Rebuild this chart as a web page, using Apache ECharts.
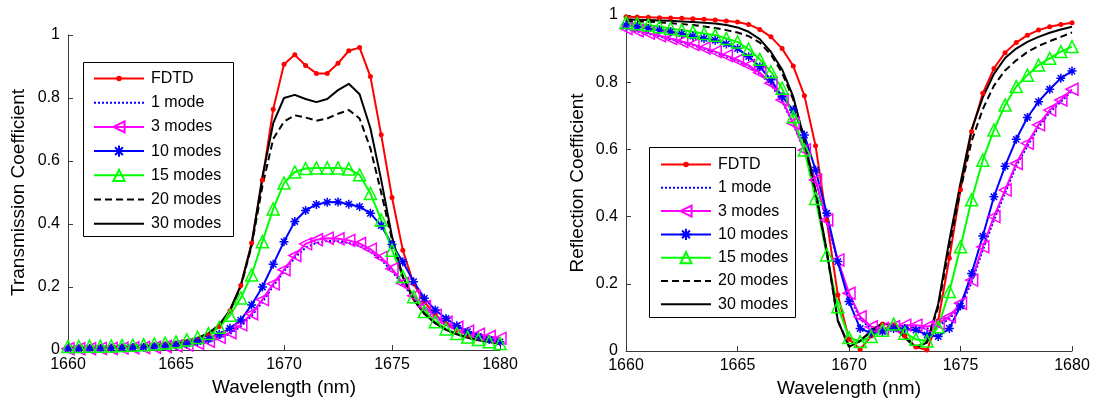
<!DOCTYPE html>
<html>
<head>
<meta charset="utf-8">
<script src="https://cdn.jsdelivr.net/npm/echarts@6/dist/echarts.min.js"></script>
<style>
  html, body { margin: 0; padding: 0; background: #ffffff; }
  #chart { width: 1093px; height: 406px; }
</style>
</head>
<body>
<div id="chart"></div>
<script>
// Wavelength samples (nm), 0.5 nm step
const wavelength = [
  1660, 1660.5, 1661, 1661.5, 1662, 1662.5, 1663, 1663.5, 1664, 1664.5,
  1665, 1665.5, 1666, 1666.5, 1667, 1667.5, 1668, 1668.5, 1669, 1669.5,
  1670, 1670.5, 1671, 1671.5, 1672, 1672.5, 1673, 1673.5, 1674, 1674.5,
  1675, 1675.5, 1676, 1676.5, 1677, 1677.5, 1678, 1678.5, 1679, 1679.5, 1680
];
const xTicks = [1660, 1665, 1670, 1675, 1680];
const yTicks = [0, 0.2, 0.4, 0.6, 0.8, 1];
const seriesNames = ['FDTD', '1 mode', '3 modes', '10 modes', '15 modes', '20 modes', '30 modes'];

// Transmission coefficient
const transFDTD = [
  0.008, 0.008, 0.009, 0.009, 0.010, 0.011, 0.012, 0.013, 0.015, 0.018,
  0.021, 0.026, 0.034, 0.048, 0.075, 0.125, 0.205, 0.340, 0.540, 0.764,
  0.907, 0.937, 0.903, 0.878, 0.878, 0.910, 0.950, 0.960, 0.868, 0.683,
  0.484, 0.317, 0.210, 0.152, 0.112, 0.083, 0.063, 0.048, 0.038, 0.031, 0.025
];
const trans1 = [
  0.003, 0.003, 0.004, 0.004, 0.005, 0.005, 0.006, 0.007, 0.008, 0.010,
  0.012, 0.015, 0.019, 0.026, 0.037, 0.051, 0.075, 0.108, 0.152, 0.203,
  0.250, 0.293, 0.325, 0.340, 0.346, 0.345, 0.340, 0.330, 0.312, 0.286,
  0.250, 0.207, 0.168, 0.135, 0.107, 0.086, 0.070, 0.058, 0.048, 0.041, 0.035
];
const trans3 = [
  0.004, 0.004, 0.004, 0.005, 0.005, 0.006, 0.007, 0.008, 0.009, 0.011,
  0.013, 0.016, 0.021, 0.028, 0.040, 0.055, 0.080, 0.115, 0.160, 0.210,
  0.255, 0.300, 0.337, 0.350, 0.355, 0.353, 0.348, 0.338, 0.320, 0.294,
  0.258, 0.212, 0.172, 0.138, 0.110, 0.088, 0.072, 0.060, 0.050, 0.043, 0.037
];
const trans10 = [
  0.004, 0.004, 0.005, 0.005, 0.006, 0.007, 0.008, 0.009, 0.011, 0.013,
  0.016, 0.020, 0.027, 0.035, 0.050, 0.069, 0.095, 0.143, 0.200, 0.272,
  0.344, 0.408, 0.443, 0.462, 0.469, 0.470, 0.463, 0.455, 0.434, 0.395,
  0.335, 0.280, 0.217, 0.164, 0.127, 0.100, 0.077, 0.058, 0.043, 0.033, 0.026
];
const trans15 = [
  0.011, 0.011, 0.012, 0.012, 0.013, 0.014, 0.015, 0.017, 0.019, 0.022,
  0.026, 0.032, 0.040, 0.052, 0.072, 0.110, 0.165, 0.238, 0.344, 0.448,
  0.530, 0.565, 0.576, 0.578, 0.578, 0.578, 0.575, 0.556, 0.497, 0.413,
  0.317, 0.233, 0.169, 0.122, 0.090, 0.067, 0.052, 0.041, 0.033, 0.026, 0.021
];
const trans20 = [
  0.005, 0.005, 0.006, 0.006, 0.007, 0.008, 0.009, 0.010, 0.012, 0.015,
  0.019, 0.026, 0.037, 0.053, 0.078, 0.124, 0.200, 0.330, 0.520, 0.670,
  0.725, 0.745, 0.738, 0.728, 0.735, 0.750, 0.762, 0.735, 0.640, 0.500,
  0.350, 0.232, 0.160, 0.115, 0.085, 0.064, 0.050, 0.039, 0.031, 0.025, 0.020
];
const trans30 = [
  0.005, 0.005, 0.006, 0.006, 0.007, 0.008, 0.009, 0.010, 0.012, 0.015,
  0.019, 0.026, 0.037, 0.053, 0.080, 0.127, 0.205, 0.335, 0.550, 0.720,
  0.800, 0.810, 0.797, 0.787, 0.797, 0.825, 0.845, 0.812, 0.704, 0.540,
  0.360, 0.233, 0.160, 0.115, 0.085, 0.064, 0.050, 0.039, 0.031, 0.025, 0.020
];

// Reflection coefficient
const reflFDTD = [
  0.995, 0.994, 0.993, 0.992, 0.991, 0.990, 0.989, 0.987, 0.985, 0.982,
  0.979, 0.972, 0.957, 0.935, 0.900, 0.848, 0.760, 0.611, 0.390, 0.167,
  0.035, 0.005, 0.045, 0.080, 0.078, 0.045, 0.012, 0.003, 0.090, 0.276,
  0.480, 0.653, 0.767, 0.841, 0.888, 0.918, 0.940, 0.955, 0.965, 0.972, 0.977
];
const refl1 = [
  0.958, 0.951, 0.944, 0.936, 0.928, 0.919, 0.910, 0.900, 0.889, 0.877,
  0.864, 0.848, 0.825, 0.793, 0.743, 0.675, 0.596, 0.505, 0.385, 0.265,
  0.165, 0.095, 0.066, 0.062, 0.066, 0.070, 0.070, 0.066, 0.075, 0.095,
  0.135, 0.203, 0.300, 0.390, 0.470, 0.550, 0.610, 0.666, 0.710, 0.742, 0.774
];
const refl3 = [
  0.960, 0.953, 0.946, 0.938, 0.930, 0.921, 0.912, 0.902, 0.891, 0.879,
  0.866, 0.850, 0.828, 0.797, 0.747, 0.678, 0.598, 0.509, 0.390, 0.271,
  0.172, 0.102, 0.072, 0.067, 0.072, 0.077, 0.077, 0.072, 0.082, 0.102,
  0.142, 0.211, 0.310, 0.400, 0.479, 0.558, 0.618, 0.673, 0.717, 0.747, 0.779
];
const refl10 = [
  0.970, 0.965, 0.960, 0.955, 0.950, 0.944, 0.937, 0.930, 0.925, 0.914,
  0.900, 0.876, 0.846, 0.807, 0.757, 0.717, 0.643, 0.539, 0.410, 0.266,
  0.147, 0.067, 0.053, 0.058, 0.067, 0.067, 0.062, 0.048, 0.043, 0.067,
  0.134, 0.231, 0.342, 0.459, 0.550, 0.630, 0.695, 0.742, 0.779, 0.812, 0.833
];
const refl15 = [
  0.978, 0.974, 0.970, 0.965, 0.960, 0.955, 0.950, 0.945, 0.940, 0.930,
  0.920, 0.898, 0.868, 0.831, 0.782, 0.697, 0.598, 0.454, 0.286, 0.132,
  0.040, 0.028, 0.043, 0.062, 0.080, 0.053, 0.035, 0.030, 0.072, 0.177,
  0.310, 0.450, 0.568, 0.658, 0.732, 0.787, 0.821, 0.851, 0.871, 0.891, 0.906
];
const refl20 = [
  0.982, 0.981, 0.980, 0.978, 0.976, 0.973, 0.970, 0.966, 0.961, 0.955,
  0.948, 0.937, 0.918, 0.882, 0.828, 0.748, 0.620, 0.470, 0.295, 0.090,
  0.015, 0.030, 0.060, 0.082, 0.075, 0.040, 0.012, 0.027, 0.130, 0.310,
  0.480, 0.625, 0.720, 0.790, 0.835, 0.865, 0.890, 0.908, 0.922, 0.935, 0.948
];
const refl30 = [
  0.987, 0.986, 0.985, 0.984, 0.983, 0.981, 0.979, 0.977, 0.975, 0.970,
  0.963, 0.950, 0.928, 0.890, 0.838, 0.757, 0.628, 0.479, 0.300, 0.090,
  0.012, 0.030, 0.060, 0.083, 0.075, 0.040, 0.010, 0.025, 0.140, 0.330,
  0.500, 0.660, 0.755, 0.825, 0.872, 0.900, 0.920, 0.935, 0.947, 0.957, 0.965
];

const FONT = '"Liberation Sans", Arial, Helvetica, sans-serif';
const AXIS_COLOR = '#3a3a3a';

// Asterisk marker: plus sign overlaid with a cross
const ASTERISK = 'path://M5,0L5,10M0,5L10,5M1.5,1.5L8.5,8.5M1.5,8.5L8.5,1.5';

// Line / marker style for each curve
const styles = {
  'FDTD':     { color: '#ff0000', type: 'solid',  symbol: 'circle',   size: 5,  rotate: 0,  hollow: false },
  '1 mode':   { color: '#0000ff', type: 'dotted', symbol: 'none',     size: 0,  rotate: 0,  hollow: false },
  '3 modes':  { color: '#ff00ff', type: 'solid',  symbol: 'triangle', size: 12, rotate: 90, hollow: true },
  '10 modes': { color: '#0000ff', type: 'solid',  symbol: ASTERISK,   size: 9,  rotate: 0,  hollow: true },
  '15 modes': { color: '#00ff00', type: 'solid',  symbol: 'triangle', size: 12, rotate: 0,  hollow: true },
  '20 modes': { color: '#000000', type: 'dashed', symbol: 'none',     size: 0,  rotate: 0,  hollow: false },
  '30 modes': { color: '#000000', type: 'solid',  symbol: 'none',     size: 0,  rotate: 0,  hollow: false }
};

function makeSeries(name, values, idx) {
  const s = styles[name];
  const series = {
    name: name,
    type: 'line',
    xAxisIndex: idx,
    yAxisIndex: idx,
    data: wavelength.map((w, i) => [w, values[i]]),
    lineStyle: { color: s.color, width: 2, type: s.type },
    symbol: s.symbol,
    symbolSize: s.size,
    symbolRotate: s.rotate,
    showSymbol: s.symbol !== 'none',
    itemStyle: s.hollow
      ? { color: 'rgba(0,0,0,0)', borderColor: s.color, borderWidth: 1.5 }
      : { color: s.color, borderColor: s.color, borderWidth: 0 },
    emphasis: { disabled: true },
    silent: true,
    z: 2
  };
  if (s.type === 'dashed') series.lineStyle.type = [7, 4];
  if (s.type === 'dotted') series.lineStyle.type = [2, 2];
  return series;
}

function makeXAxis(idx) {
  return {
    gridIndex: idx,
    type: 'value',
    min: xTicks[0],
    max: xTicks[xTicks.length - 1],
    interval: xTicks[1] - xTicks[0],
    name: 'Wavelength (nm)',
    nameLocation: 'middle',
    nameGap: 25,
    nameTextStyle: { fontFamily: FONT, fontSize: 19, color: '#000' },
    axisLine: { show: true, onZero: false, lineStyle: { color: AXIS_COLOR, width: 1 } },
    axisTick: { show: true, inside: true, length: 5, lineStyle: { color: AXIS_COLOR } },
    axisLabel: { fontFamily: FONT, fontSize: 16, color: '#000', margin: 7, formatter: v => String(v) },
    splitLine: { show: false }
  };
}

function makeYAxis(idx, title, gap) {
  return {
    gridIndex: idx,
    type: 'value',
    min: yTicks[0],
    max: yTicks[yTicks.length - 1],
    interval: yTicks[1] - yTicks[0],
    name: title,
    nameLocation: 'middle',
    nameGap: gap,
    nameTextStyle: { fontFamily: FONT, fontSize: 19, color: '#000' },
    axisLine: { show: true, onZero: false, lineStyle: { color: AXIS_COLOR, width: 1 } },
    axisTick: { show: true, inside: true, length: 5, lineStyle: { color: AXIS_COLOR } },
    axisLabel: { fontFamily: FONT, fontSize: 16, color: '#000', margin: 8 },
    splitLine: { show: false }
  };
}

// Legend entries: curves drawn without markers get an invisible legend symbol
function legendItems(names) {
  return names.map(n => styles[n].symbol === 'none'
    ? { name: n, itemStyle: { opacity: 0 } }
    : { name: n });
}

// One legend block (no frame); the frame is a separate rectangle
function makeLegend(names, left, top, itemHeight, gap) {
  return {
    orient: 'vertical',
    left: left,
    top: top,
    data: legendItems(names),
    itemWidth: 50,
    itemHeight: itemHeight,
    itemGap: gap,
    padding: 0,
    z: 8,
    selectedMode: false,
    textStyle: { fontFamily: FONT, fontSize: 16, color: '#000', padding: [0, 0, 0, 2] }
  };
}

function legendFrame(x, y, w, h) {
  return {
    type: 'rect',
    z: 7,
    shape: { x: x, y: y, width: w, height: h },
    style: { fill: '#ffffff', stroke: '#000000', lineWidth: 1 }
  };
}

const transData = [transFDTD, trans1, trans3, trans10, trans15, trans20, trans30];
const reflData  = [reflFDTD, refl1, refl3, refl10, refl15, refl20, refl30];

const series = [];
seriesNames.forEach((n, i) => series.push(makeSeries(n, transData[i], 0)));
seriesNames.forEach((n, i) => series.push(makeSeries(n, reflData[i], 1)));

const firstName = seriesNames.slice(0, 1);
const restNames = seriesNames.slice(1);

const chart = echarts.init(document.getElementById('chart'), null, { renderer: 'canvas' });
chart.setOption({
  animation: false,
  backgroundColor: '#ffffff',
  textStyle: { fontFamily: FONT },
  grid: [
    { left: 68, top: 35, width: 432, height: 315, containLabel: false },
    { left: 626, top: 15, width: 446, height: 336, containLabel: false }
  ],
  xAxis: [makeXAxis(0), makeXAxis(1)],
  yAxis: [
    makeYAxis(0, 'Transmission Coefficient', 40),
    makeYAxis(1, 'Reflection Coefficient', 39)
  ],
  legend: [
    makeLegend(firstName, 93, 70.5, 7, 0),
    makeLegend(restNames, 93, 94.7, 14, 8.2),
    makeLegend(firstName, 660, 156.5, 7, 0),
    makeLegend(restNames, 660, 179.8, 14, 7.3)
  ],
  graphic: [
    legendFrame(83.5, 62.5, 150, 174),
    legendFrame(649.5, 147.5, 146, 170)
  ],
  series: series
});
</script>
</body>
</html>
